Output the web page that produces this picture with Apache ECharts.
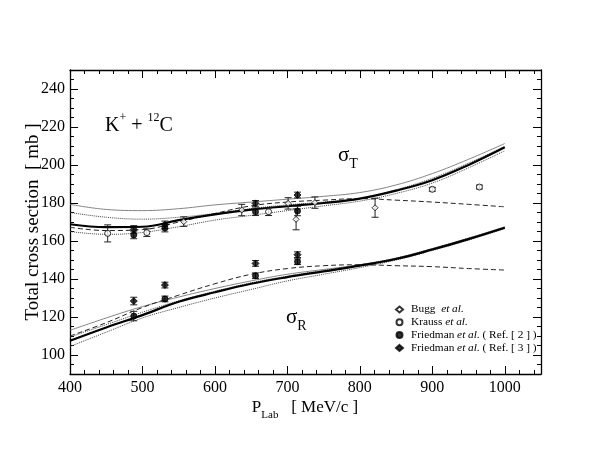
<!DOCTYPE html>
<html><head><meta charset="utf-8">
<script src="https://cdn.jsdelivr.net/npm/echarts@6/dist/echarts.min.js"></script>
<style>html,body{margin:0;padding:0;background:#fff}#c{width:605px;height:468px}</style>
</head><body><div id="c"></div>
<script>
const momenta = [400,450,500,550,600,650,700,750,800,850,900,950,1000];
const sigT_thick  = [168.8,167.3,167.5,171.0,174.0,176.5,178.3,180.0,182.3,186.5,192.0,200.0,209.3];
const sigT_thin   = [179.3,176.6,176.0,177.0,179.0,180.5,182.0,183.5,185.5,189.5,195.5,203.0,211.3];
const sigT_dash   = [167.2,165.5,166.0,170.0,174.5,178.5,180.5,181.5,182.3,181.5,180.5,179.3,178.0];
const sigT_dot1   = [175.0,172.5,171.5,172.5,174.5,177.0,179.0,180.5,182.5,187.0,193.0,201.0,209.8];
const sigT_dot2   = [165.0,163.5,164.5,167.5,171.0,173.5,176.0,178.5,181.0,185.0,190.5,198.5,207.5];
const sigR_thick  = [107.5,114.5,121.0,128.0,133.0,137.5,141.0,144.0,147.0,150.5,155.5,161.0,167.0];
const sigR_thin   = [113.0,119.5,125.5,130.5,135.0,139.0,142.5,145.0,147.5,151.0,156.0,161.5,167.5];
const sigR_dash   = [110.0,117.0,125.0,131.5,137.5,142.5,145.5,147.0,147.5,147.0,146.5,145.5,144.7];
const sigR_dot1   = [109.5,116.0,122.5,128.5,133.5,138.0,141.5,144.5,147.5,151.0,156.0,161.5,167.2];
const sigR_dot2   = [104.5,112.0,119.5,125.0,130.0,134.5,139.0,142.5,146.0,150.0,155.0,160.5,166.5];

// [P_lab, sigma, error]
const bugg      = [[557,170.2,2.5],[637,176.3,3],[701,179.8,3],[712,171.4,5.5],[738,180.2,3],[821,177.5,5]];
const krauss    = [[452,164.0,4.5],[506,164.4,2],[674,175.4,2],[900,187.2,1],[965,188.4,1]];
const friedman2 = [[488,163.2,2],[531,166.8,2],[656,175.4,2],[714,175.8,2.5],[488,120.5,2.5],[531,129.5,1.5],[656,141.7,1.5],[714,149.1,1.5]];
const friedman3 = [[488,166.1,2],[531,168.5,2],[656,179.8,1.5],[714,184.2,1.5],[488,128.4,2],[531,136.8,1.5],[656,148.2,1.5],[714,152.8,1.5]];

const legendNames = ['Bugg  et al.','Krauss et al.','Friedman et al. ( Ref. [ 2 ] )','Friedman et al. ( Ref. [ 3 ] )'];
const yTickValues = [100,120,140,160,180,200,220,240];

const FONT = 'Liberation Serif';
const pair = arr => momenta.map((m,i)=>[m,arr[i]]);
function line(arr, type, width, color){
  return {type:'line', data:pair(arr), smooth:0.4, showSymbol:false, symbol:'none', silent:true,
    lineStyle:{type:type, width:width, color:color}, z:2};
}
function errBars(arr){
  return {type:'custom', silent:true, z:3, data:arr.map(d=>[d[0],d[1],d[2]]),
    renderItem:(params, api)=>{
      const x=api.value(0), y=api.value(1), e=api.value(2);
      const p1=api.coord([x,y+e]), p2=api.coord([x,y-e]);
      const cw=3.5;
      const st={stroke:'#222', lineWidth:1};
      return {type:'group', children:[
        {type:'line', shape:{x1:p1[0],y1:p1[1],x2:p2[0],y2:p2[1]}, style:st},
        {type:'line', shape:{x1:p1[0]-cw,y1:p1[1],x2:p1[0]+cw,y2:p1[1]}, style:st},
        {type:'line', shape:{x1:p2[0]-cw,y1:p2[1],x2:p2[0]+cw,y2:p2[1]}, style:st}
      ]};
    }};
}
function pts(name, arr, symbol, filled, size){
  return {type:'scatter', name:name, data:arr.map(d=>[d[0],d[1]]), symbol:symbol, symbolSize:size, z:4,
    itemStyle:{color: filled?'#000':'#fff', borderColor:'#000', borderWidth:1}};
}
const tickLbl = {fontFamily:FONT, fontSize:16, color:'#000'};
const chart = echarts.init(document.getElementById('c'), null, {renderer:'canvas'});
const axisX = (pos, show) => ({type:'value', position:pos, min:400, max:1050, interval:100,
  axisLine:{show:true, onZero:false, lineStyle:{color:'#000', width:1.3}},
  axisTick:{show:true, inside:true, length:8, lineStyle:{color:'#000'}},
  minorTick:{show:true, splitNumber:5, length:4, lineStyle:{color:'#000'}},
  splitLine:{show:false},
  axisLabel:{show:show, ...tickLbl, margin:6, showMaxLabel:false, formatter:v=>String(v)}
});
// minor-tick axis (every 5) with the labels placed at the major values
const axisYMinor = (pos, show) => ({type:'value', position:pos, min:90, max:250, interval:5,
  axisLine:{show:true, onZero:false, lineStyle:{color:'#000', width:1.3}},
  axisTick:{show:true, inside:true, length:4, lineStyle:{color:'#000'}},
  splitLine:{show:false},
  axisLabel:{show:show, ...tickLbl, margin:5, customValues:yTickValues, formatter:v=>String(v)}
});
// major ticks every 20
const axisYMajor = (pos) => ({type:'value', position:pos, min:90, max:250, interval:5,
  axisLine:{show:false}, splitLine:{show:false}, axisLabel:{show:false},
  axisTick:{show:true, inside:true, length:8, customValues:yTickValues, lineStyle:{color:'#000'}}
});

const option = {
  animation:false,
  backgroundColor:'#fff',
  grid:{left:70, right:64, top:70, bottom:94, containLabel:false},
  xAxis:[axisX('bottom', true), axisX('top', false)],
  yAxis:[axisYMinor('left', true), axisYMinor('right', false), axisYMajor('left'), axisYMajor('right')],
  legend:{orient:'vertical', left:390, top:299, itemGap:1.8, itemWidth:7, itemHeight:6,
    selectedMode:false, data:legendNames,
    textStyle:{fontFamily:FONT, fontSize:11.3, color:'#000', padding:[0,0,0,3],
      rich:{i:{fontFamily:FONT, fontSize:11.3, fontStyle:'italic', color:'#000'}}},
    formatter:n=>n.replace('et al.','{i|et al.}')
  },
  series:[
    line(sigT_thin,'solid',0.9,'#777'),
    line(sigT_dot1,'dotted',1,'#444'),
    line(sigT_dot2,'dotted',1,'#444'),
    line(sigT_dash,[5,3],1,'#222'),
    line(sigT_thick,'solid',2.2,'#000'),
    line(sigR_thin,'solid',0.9,'#777'),
    line(sigR_dot1,'dotted',1,'#444'),
    line(sigR_dot2,'dotted',1,'#444'),
    line(sigR_dash,[5,3],1,'#222'),
    line(sigR_thick,'solid',2.2,'#000'),
    errBars(bugg), errBars(krauss), errBars(friedman2), errBars(friedman3),
    pts(legendNames[0], bugg, 'diamond', false, 6),
    pts(legendNames[1], krauss, 'circle', false, 6),
    pts(legendNames[2], friedman2, 'circle', true, 6),
    pts(legendNames[3], friedman3, 'diamond', true, 7)
  ],
  graphic:[
    {type:'text', x:33, y:222, rotation:Math.PI/2,
      style:{text:'Total cross section  [ mb ]', fontFamily:FONT, fontSize:19, fill:'#000',
        align:'center', verticalAlign:'middle'}},
    {type:'text', x:305, y:410, style:{text:'{n|P}{s|Lab}{n|   [ MeV/c ]}', align:'center', verticalAlign:'middle',
      rich:{n:{fontFamily:FONT, fontSize:17, fill:'#000', lineHeight:22, verticalAlign:'top'},
            s:{fontFamily:FONT, fontSize:11, fill:'#000', lineHeight:22, verticalAlign:'bottom', padding:[10,0,0,0]}}}},
    {type:'text', x:105, y:124, style:{text:'{n|K}{s|+}{n| + }{s|12}{n|C}', align:'left', verticalAlign:'middle',
      rich:{n:{fontFamily:FONT, fontSize:20, fill:'#000', lineHeight:24, verticalAlign:'bottom'},
            s:{fontFamily:FONT, fontSize:12, fill:'#000', lineHeight:24, verticalAlign:'top'}}}},
    {type:'text', x:338, y:158, style:{text:'{n|σ}{s|T}', align:'left', verticalAlign:'middle',
      rich:{n:{fontFamily:FONT, fontSize:21, fill:'#000', lineHeight:26, verticalAlign:'top'},
            s:{fontFamily:FONT, fontSize:14, fill:'#000', lineHeight:26, verticalAlign:'bottom'}}}},
    {type:'text', x:286, y:320, style:{text:'{n|σ}{s|R}', align:'left', verticalAlign:'middle',
      rich:{n:{fontFamily:FONT, fontSize:21, fill:'#000', lineHeight:26, verticalAlign:'top'},
            s:{fontFamily:FONT, fontSize:14, fill:'#000', lineHeight:26, verticalAlign:'bottom'}}}}
  ]
};
chart.setOption(option);
</script></body></html>
